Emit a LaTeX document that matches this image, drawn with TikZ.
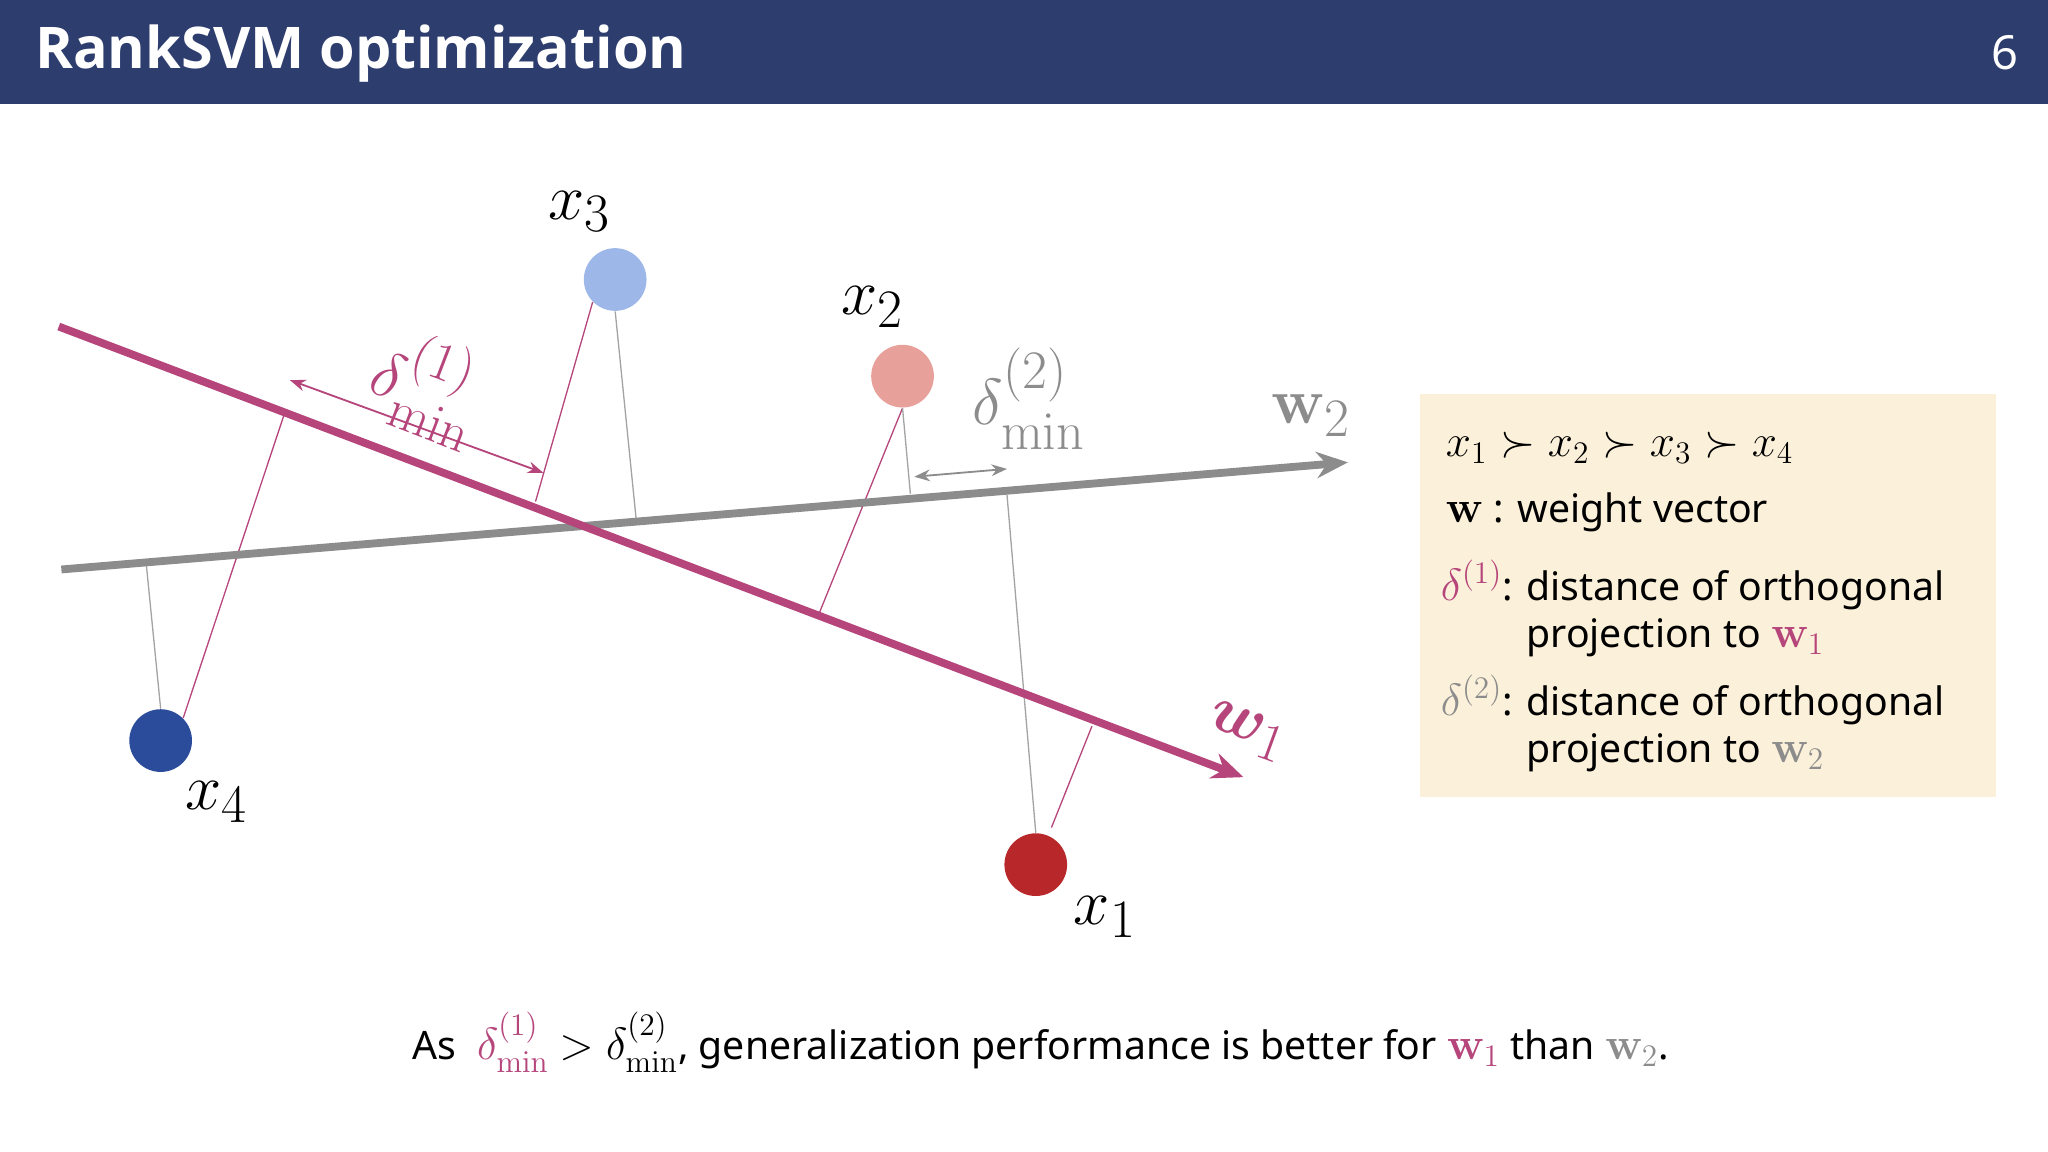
\documentclass[tikz,border=0pt]{standalone}
\usepackage{amsmath,amssymb,bm}
\usepackage[no-math]{fontspec}
\setmainfont{Noto Sans}
\newfontfamily\titlefont{Open Sans}
\usetikzlibrary{arrows.meta}
\definecolor{bar}{HTML}{2D3E6E}
\definecolor{mag}{HTML}{B5457A}
\definecolor{gr}{HTML}{8C8C8C}
\definecolor{boxc}{HTML}{FBF0D9}
\definecolor{cA}{HTML}{B8282A}
\definecolor{cB}{HTML}{E8A09A}
\definecolor{cC}{HTML}{9DB7E8}
\definecolor{cD}{HTML}{2B4C9A}
\newcommand{\mlg}[1]{{\fontsize{18}{18}\selectfont#1}}
\tikzset{pt/.style={circle,minimum size=24pt,inner sep=0pt},
 mthin/.style={mag,line width=0.5pt},
 gthin/.style={gr!80,line width=0.5pt},
 lbl/.style={font=\fontsize{28}{28}\selectfont}}
\begin{document}
\begin{tikzpicture}[x=0.5pt,y=-0.5pt]
\useasboundingbox (0,0) rectangle (1568,882);
\fill[bar] (0,0) rectangle (1568,80);
\node[anchor=west,text=white,font=\fontsize{22}{22}\selectfont\titlefont\bfseries] (title) at (20,41) {RankSVM optimization};
\node[anchor=east,text=white,font=\fontsize{18}{18}\selectfont] (num) at (1552,40) {6};
% points
\node[pt,fill=cC] (x3) at (471,214) {};
\node[pt,fill=cB] (x2) at (691,288) {};
\node[pt,fill=cA] (x1) at (793,662) {};
\node[pt,fill=cD] (x4) at (123,567) {};
\node[lbl] (lx3) at (444,162) {$x_3$};
\node[lbl] (lx2) at (668,235) {$x_2$};
\node[lbl] (lx1) at (846,702) {$x_1$};
\node[lbl] (lx4) at (166,614) {$x_4$};
% projection endpoints
\coordinate (p3a) at (410,384); \coordinate (p3b) at (487,397);
\coordinate (p2a) at (627,470); \coordinate (p2b) at (697,378);
\coordinate (p1a) at (836,556); \coordinate (p1b) at (771,379);
\coordinate (p4a) at (218,316); \coordinate (p4b) at (112,432);
\draw[mthin] (x3.south west) -- (p3a);
\draw[gthin] (x3.south) -- (p3b);
\draw[mthin] (x2.south) -- (p2a);
\draw[gthin] (x2.south) -- (p2b);
\draw[mthin] (x1.north) ++(12,-4) -- (p1a);
\draw[gthin] (x1.north) -- (p1b);
\draw[mthin] (x4.north east) -- (p4a);
\draw[gthin] (x4.north) -- (p4b);
% axes
\coordinate (w2s) at (47,436); \coordinate (w2e) at (1032,354);
\coordinate (w1s) at (45,250); \coordinate (w1e) at (952,595);
\draw[gr,line width=3pt,-{Stealth[length=12pt,width=10pt]}] (w2s) -- (w2e);
\draw[mag,line width=3pt,-{Stealth[length=12pt,width=10pt]}] (w1s) -- (w1e);
\node[gr,lbl] (lw2) at (1004,318) {$\mathbf{w}_2$};
\node[mag,lbl,rotate=-20] (lw1) at (955,560) {$\bm{w}_1$};
% deltas
\coordinate (d1a) at (222,291); \coordinate (d1b) at (416,362);
\draw[mag,line width=0.7pt,{Stealth[length=6pt]}-{Stealth[length=6pt]}] (d1a) -- (d1b);
\node[mag,lbl,rotate=-21] (ld1) at (328,296) {$\delta^{(1)}_{\mathrm{min}}$};
\coordinate (d2a) at (700,365); \coordinate (d2b) at (771,359);
\draw[gr,line width=0.7pt,{Stealth[length=6pt]}-{Stealth[length=6pt]}] (d2a) -- (d2b);
\node[gr,lbl] (ld2) at (788,305) {$\delta^{(2)}_{\mathrm{min}}$};
% box
\fill[boxc] (1087,302) rectangle (1528,610);
\node[anchor=west,font=\fontsize{18}{18}\selectfont] (r1) at (1100,343) {$x_1\succ x_2\succ x_3\succ x_4$};
\node[anchor=west,font=\fontsize{15}{15}\selectfont] (r2) at (1100,392) {\mlg{$\mathbf{w}$}\ : weight vector};
\node[anchor=north west,font=\fontsize{15}{18}\selectfont,align=left] (r3) at (1096,422)
 {\textcolor{mag}{\mlg{$\delta^{(1)}$}}: \begin{tabular}[t]{@{}l@{}}distance of orthogonal\\ projection to \textcolor{mag}{\mlg{$\mathbf{w}_1$}}\end{tabular}};
\node[anchor=north west,font=\fontsize{15}{18}\selectfont,align=left] (r4) at (1096,510)
 {\textcolor{gr}{\mlg{$\delta^{(2)}$}}: \begin{tabular}[t]{@{}l@{}}distance of orthogonal\\ projection to \textcolor{gr}{\mlg{$\mathbf{w}_2$}}\end{tabular}};
% bottom
\node[font=\fontsize{15}{15}\selectfont] (bottom) at (797,798)
 {As \ \textcolor{mag}{\mlg{$\delta^{(1)}_{\mathrm{min}}$}} \mlg{$>\delta^{(2)}_{\mathrm{min}}$}, generalization performance is better for \textcolor{mag}{\mlg{$\mathbf{w}_1$}} than \textcolor{gr}{\mlg{$\mathbf{w}_2$}}.};
\end{tikzpicture}
\end{document}
